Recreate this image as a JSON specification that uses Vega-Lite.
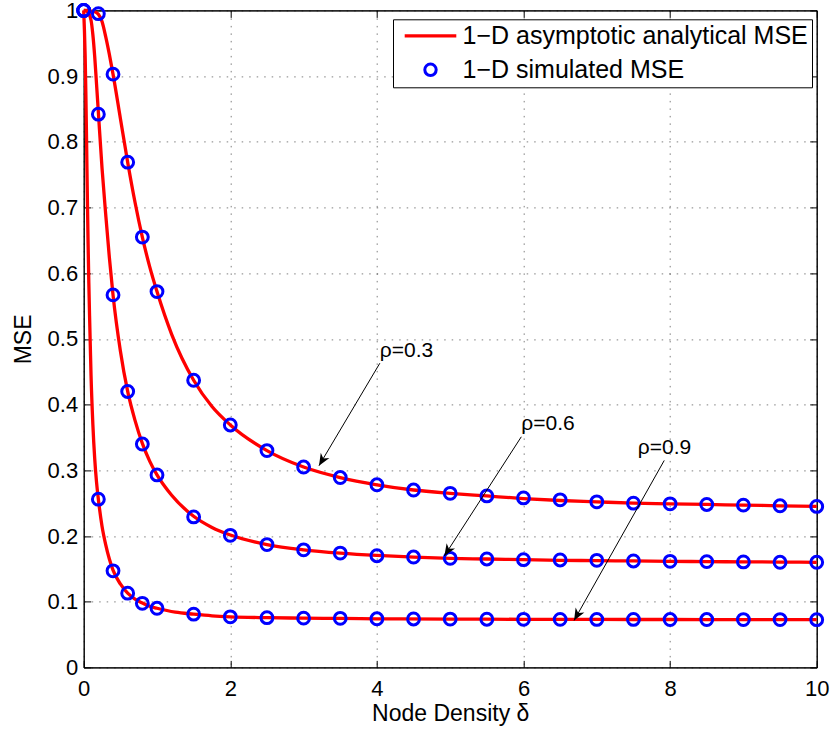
{
  "$schema": "https://vega.github.io/schema/vega-lite/v6.json",
  "width": 733,
  "height": 657,
  "autosize": {"type": "none"},
  "padding": {"left": 83.7, "top": 10.4, "right": 15.3, "bottom": 64.6},
  "background": "white",
  "config": {
    "view": {"stroke": "black", "strokeWidth": 1},
    "font": "Liberation Sans",
    "axis": {
      "labelFont": "Liberation Sans", "titleFont": "Liberation Sans",
      "labelColor": "black", "titleColor": "black", "domainColor": "black", "tickColor": "black",
      "titleFontWeight": "normal"
    }
  },
  "datasets": {
    "curves": [
      {"rho": "0.3", "delta": 0, "mse": 1.0},
      {"rho": "0.3", "delta": 0.05, "mse": 1.0},
      {"rho": "0.3", "delta": 0.1, "mse": 0.999},
      {"rho": "0.3", "delta": 0.15, "mse": 0.998},
      {"rho": "0.3", "delta": 0.2, "mse": 0.994},
      {"rho": "0.3", "delta": 0.25, "mse": 0.983},
      {"rho": "0.3", "delta": 0.3, "mse": 0.96},
      {"rho": "0.3", "delta": 0.35, "mse": 0.933},
      {"rho": "0.3", "delta": 0.4, "mse": 0.903},
      {"rho": "0.3", "delta": 0.5, "mse": 0.836},
      {"rho": "0.3", "delta": 0.6, "mse": 0.769},
      {"rho": "0.3", "delta": 0.7, "mse": 0.708},
      {"rho": "0.3", "delta": 0.8, "mse": 0.655},
      {"rho": "0.3", "delta": 0.9, "mse": 0.61},
      {"rho": "0.3", "delta": 1.0, "mse": 0.572},
      {"rho": "0.3", "delta": 1.2, "mse": 0.507},
      {"rho": "0.3", "delta": 1.5, "mse": 0.437},
      {"rho": "0.3", "delta": 1.75, "mse": 0.397},
      {"rho": "0.3", "delta": 2, "mse": 0.369},
      {"rho": "0.3", "delta": 2.5, "mse": 0.33},
      {"rho": "0.3", "delta": 3, "mse": 0.305},
      {"rho": "0.3", "delta": 3.5, "mse": 0.289},
      {"rho": "0.3", "delta": 4, "mse": 0.278},
      {"rho": "0.3", "delta": 4.5, "mse": 0.27},
      {"rho": "0.3", "delta": 5, "mse": 0.265},
      {"rho": "0.3", "delta": 5.5, "mse": 0.261},
      {"rho": "0.3", "delta": 6, "mse": 0.257},
      {"rho": "0.3", "delta": 6.5, "mse": 0.254},
      {"rho": "0.3", "delta": 7, "mse": 0.252},
      {"rho": "0.3", "delta": 7.5, "mse": 0.25},
      {"rho": "0.3", "delta": 8, "mse": 0.249},
      {"rho": "0.3", "delta": 8.5, "mse": 0.248},
      {"rho": "0.3", "delta": 9, "mse": 0.247},
      {"rho": "0.3", "delta": 9.5, "mse": 0.246},
      {"rho": "0.3", "delta": 10, "mse": 0.245},
      {"rho": "0.6", "delta": 0, "mse": 1.0},
      {"rho": "0.6", "delta": 0.05, "mse": 0.998},
      {"rho": "0.6", "delta": 0.1, "mse": 0.985},
      {"rho": "0.6", "delta": 0.125, "mse": 0.963},
      {"rho": "0.6", "delta": 0.15, "mse": 0.93},
      {"rho": "0.6", "delta": 0.175, "mse": 0.888},
      {"rho": "0.6", "delta": 0.2, "mse": 0.845},
      {"rho": "0.6", "delta": 0.25, "mse": 0.76},
      {"rho": "0.6", "delta": 0.3, "mse": 0.69},
      {"rho": "0.6", "delta": 0.35, "mse": 0.624},
      {"rho": "0.6", "delta": 0.4, "mse": 0.567},
      {"rho": "0.6", "delta": 0.5, "mse": 0.482},
      {"rho": "0.6", "delta": 0.6, "mse": 0.42},
      {"rho": "0.6", "delta": 0.7, "mse": 0.376},
      {"rho": "0.6", "delta": 0.8, "mse": 0.341},
      {"rho": "0.6", "delta": 0.9, "mse": 0.314},
      {"rho": "0.6", "delta": 1.0, "mse": 0.293},
      {"rho": "0.6", "delta": 1.2, "mse": 0.262},
      {"rho": "0.6", "delta": 1.5, "mse": 0.23},
      {"rho": "0.6", "delta": 1.75, "mse": 0.213},
      {"rho": "0.6", "delta": 2, "mse": 0.2015},
      {"rho": "0.6", "delta": 2.5, "mse": 0.187},
      {"rho": "0.6", "delta": 3, "mse": 0.179},
      {"rho": "0.6", "delta": 3.5, "mse": 0.174},
      {"rho": "0.6", "delta": 4, "mse": 0.1705},
      {"rho": "0.6", "delta": 4.5, "mse": 0.168},
      {"rho": "0.6", "delta": 5, "mse": 0.166},
      {"rho": "0.6", "delta": 5.5, "mse": 0.165},
      {"rho": "0.6", "delta": 6, "mse": 0.164},
      {"rho": "0.6", "delta": 6.5, "mse": 0.163},
      {"rho": "0.6", "delta": 7, "mse": 0.1625},
      {"rho": "0.6", "delta": 7.5, "mse": 0.162},
      {"rho": "0.6", "delta": 8, "mse": 0.1615},
      {"rho": "0.6", "delta": 8.5, "mse": 0.161},
      {"rho": "0.6", "delta": 9, "mse": 0.1607},
      {"rho": "0.6", "delta": 9.5, "mse": 0.1603},
      {"rho": "0.6", "delta": 10, "mse": 0.16},
      {"rho": "0.9", "delta": 0, "mse": 1.0},
      {"rho": "0.9", "delta": 0.01, "mse": 0.97},
      {"rho": "0.9", "delta": 0.02, "mse": 0.93},
      {"rho": "0.9", "delta": 0.03, "mse": 0.87},
      {"rho": "0.9", "delta": 0.04, "mse": 0.795},
      {"rho": "0.9", "delta": 0.05, "mse": 0.715},
      {"rho": "0.9", "delta": 0.06, "mse": 0.645},
      {"rho": "0.9", "delta": 0.07, "mse": 0.585},
      {"rho": "0.9", "delta": 0.08, "mse": 0.535},
      {"rho": "0.9", "delta": 0.09, "mse": 0.49},
      {"rho": "0.9", "delta": 0.1, "mse": 0.445},
      {"rho": "0.9", "delta": 0.125, "mse": 0.37},
      {"rho": "0.9", "delta": 0.15, "mse": 0.318},
      {"rho": "0.9", "delta": 0.175, "mse": 0.282},
      {"rho": "0.9", "delta": 0.2, "mse": 0.256},
      {"rho": "0.9", "delta": 0.25, "mse": 0.215},
      {"rho": "0.9", "delta": 0.3, "mse": 0.187},
      {"rho": "0.9", "delta": 0.35, "mse": 0.165},
      {"rho": "0.9", "delta": 0.4, "mse": 0.148},
      {"rho": "0.9", "delta": 0.5, "mse": 0.127},
      {"rho": "0.9", "delta": 0.6, "mse": 0.113},
      {"rho": "0.9", "delta": 0.7, "mse": 0.104},
      {"rho": "0.9", "delta": 0.8, "mse": 0.098},
      {"rho": "0.9", "delta": 0.9, "mse": 0.093},
      {"rho": "0.9", "delta": 1.0, "mse": 0.09},
      {"rho": "0.9", "delta": 1.25, "mse": 0.084},
      {"rho": "0.9", "delta": 1.5, "mse": 0.081},
      {"rho": "0.9", "delta": 1.75, "mse": 0.0785},
      {"rho": "0.9", "delta": 2, "mse": 0.077},
      {"rho": "0.9", "delta": 2.5, "mse": 0.0757},
      {"rho": "0.9", "delta": 3, "mse": 0.075},
      {"rho": "0.9", "delta": 3.5, "mse": 0.0745},
      {"rho": "0.9", "delta": 4, "mse": 0.074},
      {"rho": "0.9", "delta": 5, "mse": 0.0735},
      {"rho": "0.9", "delta": 6, "mse": 0.0732},
      {"rho": "0.9", "delta": 7, "mse": 0.073},
      {"rho": "0.9", "delta": 8, "mse": 0.0729},
      {"rho": "0.9", "delta": 9, "mse": 0.0728},
      {"rho": "0.9", "delta": 10, "mse": 0.0727}
    ],
    "sim": [
      {"rho": "0.3", "delta": 0, "mse": 1.0},
      {"rho": "0.3", "delta": 0.2, "mse": 0.995},
      {"rho": "0.3", "delta": 0.4, "mse": 0.903},
      {"rho": "0.3", "delta": 0.6, "mse": 0.769},
      {"rho": "0.3", "delta": 0.8, "mse": 0.655},
      {"rho": "0.3", "delta": 1.0, "mse": 0.572},
      {"rho": "0.3", "delta": 1.5, "mse": 0.437},
      {"rho": "0.3", "delta": 2, "mse": 0.369},
      {"rho": "0.3", "delta": 2.5, "mse": 0.33},
      {"rho": "0.3", "delta": 3, "mse": 0.305},
      {"rho": "0.3", "delta": 3.5, "mse": 0.289},
      {"rho": "0.3", "delta": 4, "mse": 0.278},
      {"rho": "0.3", "delta": 4.5, "mse": 0.27},
      {"rho": "0.3", "delta": 5, "mse": 0.265},
      {"rho": "0.3", "delta": 5.5, "mse": 0.261},
      {"rho": "0.3", "delta": 6, "mse": 0.258},
      {"rho": "0.3", "delta": 6.5, "mse": 0.255},
      {"rho": "0.3", "delta": 7, "mse": 0.252},
      {"rho": "0.3", "delta": 7.5, "mse": 0.25},
      {"rho": "0.3", "delta": 8, "mse": 0.249},
      {"rho": "0.3", "delta": 8.5, "mse": 0.248},
      {"rho": "0.3", "delta": 9, "mse": 0.247},
      {"rho": "0.3", "delta": 9.5, "mse": 0.246},
      {"rho": "0.3", "delta": 10, "mse": 0.245},
      {"rho": "0.6", "delta": 0, "mse": 1.0},
      {"rho": "0.6", "delta": 0.2, "mse": 0.842},
      {"rho": "0.6", "delta": 0.4, "mse": 0.567},
      {"rho": "0.6", "delta": 0.6, "mse": 0.42},
      {"rho": "0.6", "delta": 0.8, "mse": 0.34},
      {"rho": "0.6", "delta": 1.0, "mse": 0.293},
      {"rho": "0.6", "delta": 1.5, "mse": 0.229},
      {"rho": "0.6", "delta": 2, "mse": 0.201},
      {"rho": "0.6", "delta": 2.5, "mse": 0.187},
      {"rho": "0.6", "delta": 3, "mse": 0.179},
      {"rho": "0.6", "delta": 3.5, "mse": 0.174},
      {"rho": "0.6", "delta": 4, "mse": 0.17},
      {"rho": "0.6", "delta": 4.5, "mse": 0.168},
      {"rho": "0.6", "delta": 5, "mse": 0.166},
      {"rho": "0.6", "delta": 5.5, "mse": 0.165},
      {"rho": "0.6", "delta": 6, "mse": 0.164},
      {"rho": "0.6", "delta": 6.5, "mse": 0.1635},
      {"rho": "0.6", "delta": 7, "mse": 0.163},
      {"rho": "0.6", "delta": 7.5, "mse": 0.162},
      {"rho": "0.6", "delta": 8, "mse": 0.1615},
      {"rho": "0.6", "delta": 8.5, "mse": 0.161},
      {"rho": "0.6", "delta": 9, "mse": 0.1605},
      {"rho": "0.6", "delta": 9.5, "mse": 0.16},
      {"rho": "0.6", "delta": 10, "mse": 0.16},
      {"rho": "0.9", "delta": 0, "mse": 1.0},
      {"rho": "0.9", "delta": 0.2, "mse": 0.256},
      {"rho": "0.9", "delta": 0.4, "mse": 0.147},
      {"rho": "0.9", "delta": 0.6, "mse": 0.113},
      {"rho": "0.9", "delta": 0.8, "mse": 0.0975},
      {"rho": "0.9", "delta": 1.0, "mse": 0.09},
      {"rho": "0.9", "delta": 1.5, "mse": 0.081},
      {"rho": "0.9", "delta": 2, "mse": 0.077},
      {"rho": "0.9", "delta": 2.5, "mse": 0.0757},
      {"rho": "0.9", "delta": 3, "mse": 0.075},
      {"rho": "0.9", "delta": 3.5, "mse": 0.0747},
      {"rho": "0.9", "delta": 4, "mse": 0.074},
      {"rho": "0.9", "delta": 4.5, "mse": 0.0737},
      {"rho": "0.9", "delta": 5, "mse": 0.0735},
      {"rho": "0.9", "delta": 5.5, "mse": 0.0733},
      {"rho": "0.9", "delta": 6, "mse": 0.0732},
      {"rho": "0.9", "delta": 6.5, "mse": 0.0731},
      {"rho": "0.9", "delta": 7, "mse": 0.073},
      {"rho": "0.9", "delta": 7.5, "mse": 0.073},
      {"rho": "0.9", "delta": 8, "mse": 0.0729},
      {"rho": "0.9", "delta": 8.5, "mse": 0.0729},
      {"rho": "0.9", "delta": 9, "mse": 0.0728},
      {"rho": "0.9", "delta": 9.5, "mse": 0.0728},
      {"rho": "0.9", "delta": 10, "mse": 0.0727}
    ],
    "notes": [
      {"label": "ρ=0.3", "tx": 4.04, "ty": 0.481, "x1": 4.04, "y1": 0.463, "x2": 3.21, "y2": 0.307},
      {"label": "ρ=0.6", "tx": 5.97, "ty": 0.3705, "x1": 5.97, "y1": 0.351, "x2": 4.92, "y2": 0.1696},
      {"label": "ρ=0.9", "tx": 7.56, "ty": 0.334, "x1": 7.92, "y1": 0.315, "x2": 6.69, "y2": 0.0714}
    ]
  },
  "resolve": {"axis": {"x": "independent", "y": "independent"}},
  "layer": [
    {
      "data": {"name": "curves"},
      "mark": {"type": "line", "strokeWidth": 3.3, "interpolate": "monotone", "clip": false},
      "encoding": {
        "x": {"field": "delta", "type": "quantitative",
              "scale": {"domain": [0, 10], "nice": false, "zero": false},
              "axis": {"orient": "bottom", "values": [0, 2, 4, 6, 8, 10], "title": "Node Density δ",
                       "labelFontSize": 22, "titleFontSize": 23, "tickSize": -7, "labelPadding": 18,
                       "titlePadding": 3, "grid": true, "gridDash": [1.5, 6], "gridColor": "#000", "gridOpacity": 0.5,
                       "labelFlush": false}},
        "y": {"field": "mse", "type": "quantitative",
              "scale": {"domain": [0, 1], "nice": false, "zero": false},
              "axis": {"orient": "left", "values": [0, 0.1, 0.2, 0.3, 0.4, 0.5, 0.6, 0.7, 0.8, 0.9, 1], "format": ".1~f",
                       "title": "MSE", "labelFontSize": 22, "titleFontSize": 23, "tickSize": -7, "labelPadding": 13,
                       "titlePadding": 12, "grid": true, "gridDash": [1.5, 6], "gridColor": "#000", "gridOpacity": 0.5,
                       "labelFlush": false}},
        "detail": {"field": "rho"},
        "color": {"datum": "1−D asymptotic analytical MSE", "type": "nominal",
                  "scale": {"domain": ["1−D asymptotic analytical MSE", "1−D simulated MSE"], "range": ["#ff0000", "#0000ff"]},
                  "legend": {
                    "orient": "none", "legendX": 309.3, "legendY": 8.9, "title": null,
                    "strokeColor": "black", "fillColor": "white", "padding": 4,
                    "labelFont": "Liberation Sans", "labelFontSize": 25, "labelColor": "black", "labelLimit": 600,
                    "labelOffset": 19.5, "symbolOffset": 21, "rowPadding": 8, "symbolSize": 144, "symbolStrokeWidth": 3,
                    "encode": {"symbols": {"update": {
                      "shape": {"signal": "datum.value === '1−D simulated MSE' ? 'circle' : 'M-4.3,0H4.3'"},
                      "size": {"signal": "datum.value === '1−D simulated MSE' ? 130 : 144"},
                      "stroke": {"signal": "datum.value === '1−D simulated MSE' ? '#0000ff' : '#ff0000'"},
                      "fill": {"value": "transparent"},
                      "strokeWidth": {"signal": "datum.value === '1−D simulated MSE' ? 3 : 3.3"},
                      "opacity": {"value": 1}
                    }}}
                  }}
      }
    },
    {
      "data": {"name": "sim"},
      "mark": {"type": "point", "filled": false, "strokeWidth": 3, "size": 140, "opacity": 1, "clip": false},
      "encoding": {
        "x": {"field": "delta", "type": "quantitative",
              "axis": {"orient": "top", "values": [0, 2, 4, 6, 8, 10], "labels": false, "title": null, "tickSize": -7, "grid": false}},
        "y": {"field": "mse", "type": "quantitative",
              "axis": {"orient": "right", "values": [0, 0.1, 0.2, 0.3, 0.4, 0.5, 0.6, 0.7, 0.8, 0.9, 1], "labels": false, "title": null, "tickSize": -7, "grid": false}},
        "color": {"datum": "1−D simulated MSE", "type": "nominal"}
      }
    },
    {
      "data": {"name": "notes"},
      "mark": {"type": "rule", "color": "black", "strokeWidth": 1},
      "encoding": {
        "x": {"field": "x1", "type": "quantitative", "axis": null},
        "y": {"field": "y1", "type": "quantitative", "axis": null},
        "x2": {"field": "x2"},
        "y2": {"field": "y2"}
      }
    },
    {
      "data": {"name": "notes"},
      "mark": {"type": "point", "shape": "M0,0L-1,2.4L0,1.7L1,2.4Z", "filled": true, "color": "black", "size": 100, "opacity": 1},
      "encoding": {
        "x": {"field": "x2", "type": "quantitative", "axis": null},
        "y": {"field": "y2", "type": "quantitative", "axis": null},
        "angle": {"field": "label", "type": "nominal",
                  "scale": {"type": "ordinal", "domain": ["ρ=0.3", "ρ=0.6", "ρ=0.9"], "range": [210.6, 212.8, 209.5]},
                  "legend": null}
      }
    },
    {
      "data": {"name": "notes"},
      "mark": {"type": "text", "align": "left", "baseline": "middle", "font": "Liberation Sans", "fontSize": 21, "color": "black"},
      "encoding": {
        "x": {"field": "tx", "type": "quantitative", "axis": null},
        "y": {"field": "ty", "type": "quantitative", "axis": null},
        "text": {"field": "label"}
      }
    }
  ]
}
